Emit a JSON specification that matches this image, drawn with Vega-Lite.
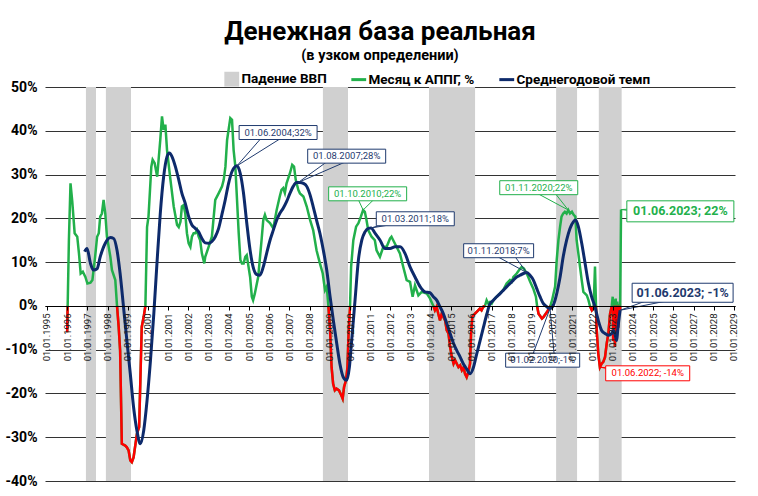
{
  "$schema": "https://vega.github.io/schema/vega-lite/v6.json",
  "width": 690,
  "height": 394,
  "autosize": {"type": "none"},
  "padding": {"left": 45, "top": 87, "right": 23, "bottom": 15},
  "background": "white",
  "config": {"font": "Roboto", "view": {"stroke": null}},
  "title": {
    "text": "Денежная база реальная",
    "subtitle": "(в узком определении)",
    "fontSize": 26, "fontWeight": "bold", "color": "#000",
    "subtitleFontSize": 14.5, "subtitleFontWeight": "bold", "subtitleColor": "#000",
    "anchor": "middle", "dx": -10, "offset": 10, "subtitlePadding": 4
  },
  "datasets": {
    "bands": [
      {"s": "1996-12-05", "e": "1997-06-05"},
      {"s": "1997-12-01", "e": "1999-02-28"},
      {"s": "2008-08-28", "e": "2009-11-25"},
      {"s": "2013-11-28", "e": "2016-03-10"},
      {"s": "2020-03-14", "e": "2021-03-28"},
      {"s": "2022-04-25", "e": "2023-06-12"}
    ],
    "month": [
      {"d": "1996-01-01", "v": -6}, {"d": "1996-02-01", "v": 15}, {"d": "1996-03-01", "v": 28}, {"d": "1996-04-01", "v": 24},
      {"d": "1996-05-15", "v": 16.6}, {"d": "1996-07-01", "v": 15.8}, {"d": "1996-08-01", "v": 12}, {"d": "1996-09-01", "v": 7.4},
      {"d": "1996-10-10", "v": 7.8}, {"d": "1996-11-25", "v": 6.6}, {"d": "1997-01-01", "v": 5.1}, {"d": "1997-02-25", "v": 5.3},
      {"d": "1997-04-01", "v": 5.9}, {"d": "1997-05-20", "v": 11.2}, {"d": "1997-06-25", "v": 15.8}, {"d": "1997-07-25", "v": 16.6},
      {"d": "1997-08-20", "v": 20.4}, {"d": "1997-09-20", "v": 21.1}, {"d": "1997-10-20", "v": 24.2}, {"d": "1997-11-20", "v": 21.1},
      {"d": "1997-12-20", "v": 15.8}, {"d": "1998-02-20", "v": 11.2}, {"d": "1998-03-20", "v": 8.2}, {"d": "1998-05-20", "v": 5.9},
      {"d": "1998-06-20", "v": 0}, {"d": "1998-07-20", "v": -4.8}, {"d": "1998-08-15", "v": -10.2}, {"d": "1998-09-15", "v": -31.5},
      {"d": "1998-11-15", "v": -31.9}, {"d": "1998-12-15", "v": -32.3}, {"d": "1999-01-15", "v": -33}, {"d": "1999-02-15", "v": -35.3},
      {"d": "1999-03-15", "v": -35.7}, {"d": "1999-04-15", "v": -34.6}, {"d": "1999-06-15", "v": -29.2}, {"d": "1999-07-25", "v": -27.7},
      {"d": "1999-09-10", "v": -4.8}, {"d": "1999-10-15", "v": -2.5}, {"d": "1999-11-15", "v": 0}, {"d": "1999-12-15", "v": 18},
      {"d": "2000-01-10", "v": 20.4}, {"d": "2000-03-01", "v": 31.8}, {"d": "2000-03-25", "v": 33.4}, {"d": "2000-05-01", "v": 32.6},
      {"d": "2000-06-15", "v": 29.5}, {"d": "2000-08-10", "v": 37.9}, {"d": "2000-09-10", "v": 43.3}, {"d": "2000-10-10", "v": 40.2},
      {"d": "2000-11-10", "v": 41.4}, {"d": "2000-12-10", "v": 35.6}, {"d": "2001-02-10", "v": 28.8}, {"d": "2001-04-10", "v": 22.7},
      {"d": "2001-06-10", "v": 18.5}, {"d": "2001-07-10", "v": 18}, {"d": "2001-08-10", "v": 19.2}, {"d": "2001-09-05", "v": 22.7},
      {"d": "2001-10-05", "v": 23}, {"d": "2001-11-05", "v": 21.1}, {"d": "2001-12-05", "v": 16.6}, {"d": "2002-01-05", "v": 14.3},
      {"d": "2002-02-05", "v": 13.5}, {"d": "2002-03-05", "v": 15.8}, {"d": "2002-04-05", "v": 16.6}, {"d": "2002-05-05", "v": 16.6},
      {"d": "2002-06-05", "v": 17.3}, {"d": "2002-07-05", "v": 15.8}, {"d": "2002-08-01", "v": 15}, {"d": "2002-09-01", "v": 12},
      {"d": "2002-10-15", "v": 9.7}, {"d": "2002-11-01", "v": 11.2}, {"d": "2003-01-01", "v": 13.5}, {"d": "2003-03-01", "v": 15.8},
      {"d": "2003-05-01", "v": 24.2}, {"d": "2003-07-01", "v": 25.7}, {"d": "2003-08-01", "v": 26.5}, {"d": "2003-09-01", "v": 27.3},
      {"d": "2003-10-01", "v": 28.8}, {"d": "2003-11-01", "v": 31.8}, {"d": "2003-12-01", "v": 37.9}, {"d": "2004-01-28", "v": 42.9},
      {"d": "2004-02-28", "v": 42.5}, {"d": "2004-03-28", "v": 35.6}, {"d": "2004-04-28", "v": 31.8}, {"d": "2004-06-28", "v": 16.6},
      {"d": "2004-07-28", "v": 10.5}, {"d": "2004-08-25", "v": 9.7}, {"d": "2004-09-25", "v": 9.7}, {"d": "2004-10-25", "v": 11.2},
      {"d": "2004-11-20", "v": 11.6}, {"d": "2005-01-20", "v": 6.6}, {"d": "2005-02-20", "v": 2.1}, {"d": "2005-03-15", "v": 1.3},
      {"d": "2005-04-15", "v": 2.8}, {"d": "2005-06-15", "v": 6.6}, {"d": "2005-08-15", "v": 15}, {"d": "2005-09-15", "v": 19.6},
      {"d": "2005-10-15", "v": 20.8}, {"d": "2005-11-15", "v": 19.6}, {"d": "2006-01-15", "v": 18.9}, {"d": "2006-03-15", "v": 17.7},
      {"d": "2006-05-15", "v": 21.9}, {"d": "2006-07-10", "v": 25}, {"d": "2006-08-10", "v": 26.5}, {"d": "2006-09-10", "v": 26.9},
      {"d": "2006-10-10", "v": 25.8}, {"d": "2006-11-10", "v": 28}, {"d": "2007-01-10", "v": 30.3}, {"d": "2007-02-20", "v": 32.2},
      {"d": "2007-03-25", "v": 31.8}, {"d": "2007-04-25", "v": 28.8}, {"d": "2007-06-10", "v": 26.5}, {"d": "2007-07-10", "v": 25.7},
      {"d": "2007-09-10", "v": 25}, {"d": "2007-11-10", "v": 22.7}, {"d": "2008-01-10", "v": 19.6}, {"d": "2008-03-05", "v": 17.3},
      {"d": "2008-05-05", "v": 12.7}, {"d": "2008-07-05", "v": 9.7}, {"d": "2008-08-25", "v": 7.4}, {"d": "2008-10-05", "v": 3.6},
      {"d": "2008-11-05", "v": 4.4}, {"d": "2008-12-05", "v": 0}, {"d": "2009-01-05", "v": -5.6}, {"d": "2009-02-01", "v": -14},
      {"d": "2009-03-01", "v": -17.8}, {"d": "2009-04-01", "v": -19.3}, {"d": "2009-05-01", "v": -18.9}, {"d": "2009-06-15", "v": -19.3},
      {"d": "2009-07-15", "v": -20.1}, {"d": "2009-08-20", "v": -21.2}, {"d": "2009-09-15", "v": -18.5}, {"d": "2009-10-20", "v": -17},
      {"d": "2009-11-15", "v": -14}, {"d": "2009-12-05", "v": -6.3}, {"d": "2010-01-01", "v": 0}, {"d": "2010-01-20", "v": 8.9},
      {"d": "2010-03-01", "v": 15}, {"d": "2010-04-20", "v": 18.1}, {"d": "2010-06-01", "v": 18.9}, {"d": "2010-07-15", "v": 20.4},
      {"d": "2010-08-25", "v": 21.9}, {"d": "2010-09-25", "v": 21.5}, {"d": "2010-10-25", "v": 19.6}, {"d": "2010-11-25", "v": 17.3},
      {"d": "2011-01-25", "v": 15.8}, {"d": "2011-03-25", "v": 15}, {"d": "2011-04-25", "v": 12.7}, {"d": "2011-06-25", "v": 11.2},
      {"d": "2011-08-25", "v": 13.5}, {"d": "2011-10-25", "v": 13.5}, {"d": "2011-12-25", "v": 15.4}, {"d": "2012-01-20", "v": 15.8},
      {"d": "2012-02-20", "v": 15}, {"d": "2012-04-20", "v": 13.5}, {"d": "2012-06-20", "v": 12}, {"d": "2012-08-20", "v": 8.9},
      {"d": "2012-10-20", "v": 5.9}, {"d": "2012-12-20", "v": 5.5}, {"d": "2013-02-05", "v": 2.1}, {"d": "2013-03-20", "v": 4.7},
      {"d": "2013-05-20", "v": 2.4}, {"d": "2013-07-20", "v": 3.2}, {"d": "2013-10-20", "v": 2.8}, {"d": "2013-12-15", "v": 1.7},
      {"d": "2014-02-15", "v": 0}, {"d": "2014-03-15", "v": -1}, {"d": "2014-04-15", "v": -0.2}, {"d": "2014-05-15", "v": -1.8},
      {"d": "2014-06-15", "v": -3.3}, {"d": "2014-07-15", "v": -1.8}, {"d": "2014-08-15", "v": -2.5}, {"d": "2014-09-15", "v": -3.3},
      {"d": "2014-10-15", "v": -5.6}, {"d": "2014-11-15", "v": -6.3}, {"d": "2014-12-15", "v": -9.4}, {"d": "2015-01-15", "v": -11.7},
      {"d": "2015-02-15", "v": -13.2}, {"d": "2015-03-15", "v": -12.4}, {"d": "2015-04-15", "v": -13.2}, {"d": "2015-05-15", "v": -14},
      {"d": "2015-06-15", "v": -13.6}, {"d": "2015-07-15", "v": -14.7}, {"d": "2015-08-15", "v": -14}, {"d": "2015-09-10", "v": -15.5},
      {"d": "2015-10-10", "v": -16.3}, {"d": "2015-11-10", "v": -15.1}, {"d": "2015-12-10", "v": -13.2}, {"d": "2015-12-28", "v": -6.3},
      {"d": "2016-01-20", "v": -2.5}, {"d": "2016-03-05", "v": -1.8}, {"d": "2016-05-05", "v": -1}, {"d": "2016-06-05", "v": -0.6},
      {"d": "2016-07-05", "v": -1}, {"d": "2016-08-05", "v": -0.2}, {"d": "2016-09-05", "v": 0}, {"d": "2016-10-05", "v": 1.3},
      {"d": "2016-11-05", "v": 0.5}, {"d": "2016-12-05", "v": 0.9}, {"d": "2017-01-05", "v": 0.5}, {"d": "2017-02-05", "v": 1.3},
      {"d": "2017-04-05", "v": 2.1}, {"d": "2017-06-01", "v": 2.8}, {"d": "2017-08-01", "v": 3.6}, {"d": "2017-10-01", "v": 5.1},
      {"d": "2017-12-01", "v": 5.9}, {"d": "2018-01-01", "v": 5.5}, {"d": "2018-02-01", "v": 6.6}, {"d": "2018-04-01", "v": 7.4},
      {"d": "2018-06-01", "v": 8.5}, {"d": "2018-07-01", "v": 8.9}, {"d": "2018-08-10", "v": 8.5}, {"d": "2018-10-01", "v": 7.4},
      {"d": "2018-12-01", "v": 5.5}, {"d": "2019-01-25", "v": 4}, {"d": "2019-03-15", "v": 2.1}, {"d": "2019-04-05", "v": 0},
      {"d": "2019-05-01", "v": -1.8}, {"d": "2019-07-01", "v": -2.9}, {"d": "2019-08-01", "v": -2.5}, {"d": "2019-10-01", "v": -1.4},
      {"d": "2019-12-01", "v": 0}, {"d": "2020-01-01", "v": 1.3}, {"d": "2020-02-25", "v": 4.4}, {"d": "2020-03-25", "v": 10.5},
      {"d": "2020-04-25", "v": 15}, {"d": "2020-05-25", "v": 18.1}, {"d": "2020-06-20", "v": 20.4}, {"d": "2020-07-20", "v": 21.1},
      {"d": "2020-08-20", "v": 21.5}, {"d": "2020-09-20", "v": 21.1}, {"d": "2020-10-20", "v": 21.9}, {"d": "2020-11-20", "v": 21.1},
      {"d": "2020-12-25", "v": 21.5}, {"d": "2021-01-25", "v": 20.8}, {"d": "2021-02-25", "v": 20.4}, {"d": "2021-03-20", "v": 15},
      {"d": "2021-04-20", "v": 12}, {"d": "2021-05-20", "v": 8.9}, {"d": "2021-06-20", "v": 5.9}, {"d": "2021-07-20", "v": 3.2},
      {"d": "2021-08-20", "v": 2.8}, {"d": "2021-09-20", "v": 2.4}, {"d": "2021-10-20", "v": 1.3}, {"d": "2021-11-15", "v": 0},
      {"d": "2021-12-20", "v": -1}, {"d": "2022-01-20", "v": -0.5}, {"d": "2022-02-15", "v": 9}, {"d": "2022-03-15", "v": -4.8},
      {"d": "2022-04-15", "v": -10.9}, {"d": "2022-05-15", "v": -14}, {"d": "2022-06-15", "v": -13.2}, {"d": "2022-07-15", "v": -12.8},
      {"d": "2022-08-15", "v": -11.7}, {"d": "2022-09-15", "v": -8.6}, {"d": "2022-10-15", "v": -6.3}, {"d": "2022-11-15", "v": -1.8},
      {"d": "2022-12-15", "v": 0}, {"d": "2023-01-01", "v": 2.1}, {"d": "2023-01-10", "v": -8}, {"d": "2023-01-25", "v": 1.5},
      {"d": "2023-02-10", "v": -9.4}, {"d": "2023-02-25", "v": 1.7}, {"d": "2023-03-10", "v": -7}, {"d": "2023-03-25", "v": 1},
      {"d": "2023-04-10", "v": -5}, {"d": "2023-04-25", "v": 0.5}, {"d": "2023-05-15", "v": -1}, {"d": "2023-06-01", "v": 22}
    ],
    "negative": [
      {"g": "a", "d": "1996-01-01", "v": -6}, {"g": "a", "d": "1996-01-09", "v": 0},
      {"g": "b", "d": "1998-06-20", "v": 0}, {"g": "b", "d": "1998-07-20", "v": -4.8}, {"g": "b", "d": "1998-08-15", "v": -10.2},
      {"g": "b", "d": "1998-09-15", "v": -31.5}, {"g": "b", "d": "1998-11-15", "v": -31.9}, {"g": "b", "d": "1998-12-15", "v": -32.3},
      {"g": "b", "d": "1999-01-15", "v": -33}, {"g": "b", "d": "1999-02-15", "v": -35.3}, {"g": "b", "d": "1999-03-15", "v": -35.7},
      {"g": "b", "d": "1999-04-15", "v": -34.6}, {"g": "b", "d": "1999-06-15", "v": -29.2}, {"g": "b", "d": "1999-07-25", "v": -27.7},
      {"g": "b", "d": "1999-09-10", "v": -4.8}, {"g": "b", "d": "1999-10-15", "v": -2.5}, {"g": "b", "d": "1999-11-15", "v": 0},
      {"g": "c", "d": "2008-12-05", "v": 0}, {"g": "c", "d": "2009-01-05", "v": -5.6}, {"g": "c", "d": "2009-02-01", "v": -14},
      {"g": "c", "d": "2009-03-01", "v": -17.8}, {"g": "c", "d": "2009-04-01", "v": -19.3}, {"g": "c", "d": "2009-05-01", "v": -18.9},
      {"g": "c", "d": "2009-06-15", "v": -19.3}, {"g": "c", "d": "2009-07-15", "v": -20.1}, {"g": "c", "d": "2009-08-20", "v": -21.2},
      {"g": "c", "d": "2009-09-15", "v": -18.5}, {"g": "c", "d": "2009-10-20", "v": -17}, {"g": "c", "d": "2009-11-15", "v": -14},
      {"g": "c", "d": "2009-12-05", "v": -6.3}, {"g": "c", "d": "2010-01-01", "v": 0},
      {"g": "d", "d": "2014-02-15", "v": 0}, {"g": "d", "d": "2014-03-15", "v": -1}, {"g": "d", "d": "2014-04-15", "v": -0.2},
      {"g": "d", "d": "2014-05-15", "v": -1.8}, {"g": "d", "d": "2014-06-15", "v": -3.3}, {"g": "d", "d": "2014-07-15", "v": -1.8},
      {"g": "d", "d": "2014-08-15", "v": -2.5}, {"g": "d", "d": "2014-09-15", "v": -3.3}, {"g": "d", "d": "2014-10-15", "v": -5.6},
      {"g": "d", "d": "2014-11-15", "v": -6.3}, {"g": "d", "d": "2014-12-15", "v": -9.4}, {"g": "d", "d": "2015-01-15", "v": -11.7},
      {"g": "d", "d": "2015-02-15", "v": -13.2}, {"g": "d", "d": "2015-03-15", "v": -12.4}, {"g": "d", "d": "2015-04-15", "v": -13.2},
      {"g": "d", "d": "2015-05-15", "v": -14}, {"g": "d", "d": "2015-06-15", "v": -13.6}, {"g": "d", "d": "2015-07-15", "v": -14.7},
      {"g": "d", "d": "2015-08-15", "v": -14}, {"g": "d", "d": "2015-09-10", "v": -15.5}, {"g": "d", "d": "2015-10-10", "v": -16.3},
      {"g": "d", "d": "2015-11-10", "v": -15.1}, {"g": "d", "d": "2015-12-10", "v": -13.2}, {"g": "d", "d": "2015-12-28", "v": -6.3},
      {"g": "d", "d": "2016-01-20", "v": -2.5}, {"g": "d", "d": "2016-03-05", "v": -1.8}, {"g": "d", "d": "2016-05-05", "v": -1},
      {"g": "d", "d": "2016-06-05", "v": -0.6}, {"g": "d", "d": "2016-07-05", "v": -1}, {"g": "d", "d": "2016-08-05", "v": -0.2},
      {"g": "d", "d": "2016-09-05", "v": 0},
      {"g": "e", "d": "2019-04-05", "v": 0}, {"g": "e", "d": "2019-05-01", "v": -1.8}, {"g": "e", "d": "2019-07-01", "v": -2.9},
      {"g": "e", "d": "2019-08-01", "v": -2.5}, {"g": "e", "d": "2019-10-01", "v": -1.4}, {"g": "e", "d": "2019-12-01", "v": 0},
      {"g": "f", "d": "2021-11-15", "v": 0}, {"g": "f", "d": "2021-12-20", "v": -1}, {"g": "f", "d": "2022-01-20", "v": -0.5},
      {"g": "f", "d": "2022-01-21", "v": 0},
      {"g": "h", "d": "2022-03-05", "v": 0}, {"g": "h", "d": "2022-03-15", "v": -4.8}, {"g": "h", "d": "2022-04-15", "v": -10.9},
      {"g": "h", "d": "2022-05-15", "v": -14}, {"g": "h", "d": "2022-06-15", "v": -13.2}, {"g": "h", "d": "2022-07-15", "v": -12.8},
      {"g": "h", "d": "2022-08-15", "v": -11.7}, {"g": "h", "d": "2022-09-15", "v": -8.6}, {"g": "h", "d": "2022-10-15", "v": -6.3},
      {"g": "h", "d": "2022-11-15", "v": -1.8}, {"g": "h", "d": "2022-12-15", "v": 0},
      {"g": "i", "d": "2023-01-03", "v": 0}, {"g": "i", "d": "2023-01-10", "v": -8}, {"g": "i", "d": "2023-01-23", "v": 0},
      {"g": "j", "d": "2023-01-27", "v": 0}, {"g": "j", "d": "2023-02-10", "v": -9.4}, {"g": "j", "d": "2023-02-23", "v": 0},
      {"g": "k", "d": "2023-02-27", "v": 0}, {"g": "k", "d": "2023-03-10", "v": -7}, {"g": "k", "d": "2023-03-23", "v": 0},
      {"g": "l", "d": "2023-03-28", "v": 0}, {"g": "l", "d": "2023-04-10", "v": -5}, {"g": "l", "d": "2023-04-24", "v": 0},
      {"g": "m", "d": "2023-05-02", "v": 0}, {"g": "m", "d": "2023-05-15", "v": -1}, {"g": "m", "d": "2023-05-16", "v": 0}
    ],
    "avg": [
      {"d": "1996-11-10", "v": 12.4}, {"d": "1996-12-25", "v": 13.1}, {"d": "1997-02-25", "v": 9.7}, {"d": "1997-04-20", "v": 8.2},
      {"d": "1997-06-25", "v": 8.5}, {"d": "1997-08-20", "v": 11.2}, {"d": "1997-11-20", "v": 14.3}, {"d": "1998-02-20", "v": 15.6},
      {"d": "1998-04-20", "v": 15.4}, {"d": "1998-06-20", "v": 12.7}, {"d": "1998-08-15", "v": 7.4}, {"d": "1998-10-15", "v": -0.2},
      {"d": "1998-12-15", "v": -7.9}, {"d": "1999-02-15", "v": -15.5}, {"d": "1999-04-15", "v": -23.1}, {"d": "1999-06-15", "v": -28.5},
      {"d": "1999-08-15", "v": -31.5}, {"d": "1999-10-15", "v": -28.5}, {"d": "1999-12-15", "v": -21.6}, {"d": "2000-02-15", "v": -12.4},
      {"d": "2000-04-15", "v": -1.8}, {"d": "2000-06-15", "v": 10.5}, {"d": "2000-08-10", "v": 21.1}, {"d": "2000-10-10", "v": 29.5},
      {"d": "2000-12-10", "v": 34.1}, {"d": "2001-01-20", "v": 34.9}, {"d": "2001-03-10", "v": 34.1}, {"d": "2001-05-10", "v": 31.8},
      {"d": "2001-07-10", "v": 28.8}, {"d": "2001-09-05", "v": 25.7}, {"d": "2001-11-05", "v": 23.4}, {"d": "2002-01-05", "v": 20.4},
      {"d": "2002-03-05", "v": 18.5}, {"d": "2002-05-05", "v": 17.7}, {"d": "2002-07-05", "v": 16.9}, {"d": "2002-09-01", "v": 15.4},
      {"d": "2002-11-01", "v": 14.4}, {"d": "2003-01-01", "v": 14.3}, {"d": "2003-03-01", "v": 14.7}, {"d": "2003-05-01", "v": 15.8},
      {"d": "2003-07-01", "v": 17.7}, {"d": "2003-08-28", "v": 20.8}, {"d": "2003-10-28", "v": 24.2}, {"d": "2003-12-28", "v": 28},
      {"d": "2004-02-28", "v": 30.7}, {"d": "2004-05-28", "v": 32}, {"d": "2004-07-25", "v": 30.3}, {"d": "2004-09-20", "v": 26},
      {"d": "2004-11-20", "v": 19}, {"d": "2005-01-20", "v": 12.7}, {"d": "2005-03-15", "v": 8.9}, {"d": "2005-05-15", "v": 7.2},
      {"d": "2005-07-15", "v": 7}, {"d": "2005-09-15", "v": 8.9}, {"d": "2005-11-15", "v": 12}, {"d": "2006-01-15", "v": 15},
      {"d": "2006-03-15", "v": 17.3}, {"d": "2006-05-15", "v": 19.6}, {"d": "2006-07-10", "v": 21.1}, {"d": "2006-09-10", "v": 22.3},
      {"d": "2006-11-10", "v": 23.8}, {"d": "2007-01-10", "v": 25.7}, {"d": "2007-03-10", "v": 27.3}, {"d": "2007-05-10", "v": 28.2},
      {"d": "2007-07-10", "v": 28.2}, {"d": "2007-09-10", "v": 28}, {"d": "2007-11-10", "v": 27.3}, {"d": "2008-01-10", "v": 25.3},
      {"d": "2008-03-05", "v": 22.7}, {"d": "2008-05-05", "v": 19.6}, {"d": "2008-07-05", "v": 16.6}, {"d": "2008-09-05", "v": 12.7},
      {"d": "2008-11-05", "v": 8.2}, {"d": "2009-01-05", "v": 2.1}, {"d": "2009-03-05", "v": -3.3}, {"d": "2009-05-05", "v": -8.6},
      {"d": "2009-07-01", "v": -13.2}, {"d": "2009-09-01", "v": -16.3}, {"d": "2009-11-01", "v": -17}, {"d": "2009-12-20", "v": -14},
      {"d": "2010-01-30", "v": -7.9}, {"d": "2010-04-01", "v": 1.3}, {"d": "2010-06-01", "v": 10.5}, {"d": "2010-08-01", "v": 15},
      {"d": "2010-09-28", "v": 16.9}, {"d": "2010-11-28", "v": 17.7}, {"d": "2011-01-15", "v": 17.8}, {"d": "2011-03-28", "v": 16.6},
      {"d": "2011-06-28", "v": 15}, {"d": "2011-09-25", "v": 13.1}, {"d": "2011-12-25", "v": 13.1}, {"d": "2012-03-25", "v": 13.5},
      {"d": "2012-06-25", "v": 13.5}, {"d": "2012-09-20", "v": 12}, {"d": "2012-12-20", "v": 8.9}, {"d": "2013-03-20", "v": 6.6},
      {"d": "2013-06-20", "v": 4.4}, {"d": "2013-09-15", "v": 3.2}, {"d": "2013-12-15", "v": 3}, {"d": "2014-02-15", "v": 2.1},
      {"d": "2014-04-15", "v": 1.3}, {"d": "2014-06-15", "v": -0.2}, {"d": "2014-08-15", "v": -1.8}, {"d": "2014-10-15", "v": -4},
      {"d": "2014-12-15", "v": -6.3}, {"d": "2015-02-15", "v": -8.6}, {"d": "2015-04-15", "v": -10.2}, {"d": "2015-06-15", "v": -11.7},
      {"d": "2015-08-10", "v": -13.2}, {"d": "2015-10-10", "v": -14.4}, {"d": "2015-12-10", "v": -15.5}, {"d": "2016-02-10", "v": -14},
      {"d": "2016-04-10", "v": -10.9}, {"d": "2016-06-10", "v": -7.9}, {"d": "2016-08-10", "v": -4.8}, {"d": "2016-10-10", "v": -1.8},
      {"d": "2016-12-05", "v": 0.5}, {"d": "2017-02-05", "v": 1.3}, {"d": "2017-04-05", "v": 2.1}, {"d": "2017-06-05", "v": 2.8},
      {"d": "2017-08-05", "v": 3.6}, {"d": "2017-10-05", "v": 4.4}, {"d": "2017-12-01", "v": 5.1}, {"d": "2018-02-01", "v": 5.9},
      {"d": "2018-04-01", "v": 6.6}, {"d": "2018-06-01", "v": 7}, {"d": "2018-08-01", "v": 7.4}, {"d": "2018-10-01", "v": 7.6},
      {"d": "2018-11-28", "v": 7}, {"d": "2019-01-28", "v": 5.9}, {"d": "2019-03-28", "v": 4}, {"d": "2019-05-28", "v": 2.1},
      {"d": "2019-07-28", "v": 0.5}, {"d": "2019-09-28", "v": -0.2}, {"d": "2019-11-25", "v": -0.6}, {"d": "2020-01-25", "v": 0.2},
      {"d": "2020-03-25", "v": 2.8}, {"d": "2020-05-25", "v": 6.6}, {"d": "2020-07-20", "v": 11.2}, {"d": "2020-09-20", "v": 15},
      {"d": "2020-11-20", "v": 17.7}, {"d": "2021-01-20", "v": 19.2}, {"d": "2021-03-01", "v": 19.6}, {"d": "2021-04-20", "v": 18.1},
      {"d": "2021-06-20", "v": 14.3}, {"d": "2021-08-20", "v": 9.7}, {"d": "2021-10-20", "v": 5.1}, {"d": "2021-12-15", "v": 2.1},
      {"d": "2022-02-15", "v": -0.2}, {"d": "2022-04-15", "v": -3.3}, {"d": "2022-06-15", "v": -5.6}, {"d": "2022-08-15", "v": -6.3},
      {"d": "2022-10-15", "v": -6.7}, {"d": "2022-12-15", "v": -6.3}, {"d": "2023-01-15", "v": -5.6}, {"d": "2023-02-15", "v": -6.7},
      {"d": "2023-03-15", "v": -7.9}, {"d": "2023-04-01", "v": -5.6}, {"d": "2023-05-15", "v": -1}
    ],
    "notes": [
      {"t": "01.06.2004;32%", "series": "avg", "d": "2004-05-28", "v": 32, "ld": "2006-06-10", "lv": 39.6},
      {"t": "01.08.2007;28%", "series": "avg", "d": "2007-06-10", "v": 28.2, "ld": "2009-11-01", "lv": 34.2},
      {"t": "01.10.2010;22%", "series": "month", "d": "2010-08-25", "v": 21.9, "ld": "2010-11-15", "lv": 25.6},
      {"t": "01.03.2011;18%", "series": "avg", "d": "2011-01-15", "v": 17.8, "ld": "2013-03-25", "lv": 19.9},
      {"t": "01.11.2018;7%", "series": "avg", "d": "2018-10-01", "v": 7.6, "ld": "2017-05-10", "lv": 12.6},
      {"t": "01.02.2020;-1%", "series": "avg", "d": "2019-11-25", "v": -0.6, "ld": "2019-07-15", "lv": -12.4},
      {"t": "01.11.2020;22%", "series": "month", "d": "2020-10-20", "v": 21.9, "ld": "2019-05-05", "lv": 27},
      {"t": "01.06.2022; -14%", "series": "neg", "d": "2022-05-15", "v": -14, "ld": "2024-09-25", "lv": -15.4}
    ],
    "latest": [
      {"t": "01.06.2023; 22%", "series": "month", "d": "2023-06-01", "v": 22, "ld": "2026-05-08", "lv": 21.6},
      {"t": "01.06.2023; -1%", "series": "avg", "d": "2023-05-15", "v": -1, "ld": "2026-06-18", "lv": 3}
    ]
  },
  "layer": [
    {
      "data": {"name": "bands"},
      "mark": {"type": "rect", "color": "#d0d0d0"},
      "encoding": {
        "x": {
          "field": "s", "type": "temporal",
          "scale": {"type": "utc", "domain": [{"year": 1994, "month": 11, "date": 26, "utc": true}, {"year": 2029, "month": 1, "date": 20, "utc": true}]},
          "axis": {
            "orient": "bottom", "offset": -175, "title": null,
            "labelExpr": "utcFormat(datum.value, '%d.%m.%Y')",
            "tickCount": {"interval": "year", "step": 1},
            "labelAngle": 270, "labelAlign": "right", "labelBaseline": "middle",
            "labelFontSize": 9.5, "labelColor": "#1a1a1a", "labelPadding": 3,
            "labelOverlap": false, "labelFlush": false, "labelBound": false,
            "grid": false, "domainColor": "#000", "domainWidth": 1,
            "tickColor": "#000", "tickSize": 4, "zindex": 1
          }
        },
        "x2": {"field": "e"},
        "color": {
          "datum": "Падение ВВП", "type": "nominal",
          "scale": {"domain": ["Падение ВВП", "Месяц к АППГ, %", "Среднегодовой темп"], "range": ["#d0d0d0", "#22b04b", "#0d2a6b"]},
          "legend": {
            "orient": "none", "legendX": 180, "legendY": -15, "direction": "horizontal", "title": null,
            "labelFontSize": 13.5, "labelFontWeight": "bold", "labelColor": "#000",
            "symbolSize": 220, "columnPadding": 18, "labelOffset": 3,
            "encode": {"symbols": {"update": {
              "shape": {"signal": "datum.value === 'Падение ВВП' ? 'square' : 'stroke'"},
              "strokeWidth": {"signal": "datum.value === 'Падение ВВП' ? 0 : 3"},
              "fill": {"signal": "datum.value === 'Падение ВВП' ? '#d0d0d0' : 'transparent'"},
              "stroke": {"signal": "datum.value === 'Месяц к АППГ, %' ? '#22b04b' : (datum.value === 'Среднегодовой темп' ? '#0d2a6b' : '#d0d0d0')"},
              "opacity": {"value": 1}
            }}}
          }
        }
      }
    },
    {
      "data": {"name": "month"},
      "mark": {"type": "line", "strokeWidth": 2.5, "zindex": 2},
      "encoding": {
        "x": {"field": "d", "type": "temporal"},
        "y": {
          "field": "v", "type": "quantitative",
          "scale": {"domain": [-40, 50], "nice": false, "zero": false},
          "axis": {
            "title": null, "values": [-40, -30, -20, -10, 0, 10, 20, 30, 40, 50],
            "labelExpr": "datum.value + '%'", "labelFontSize": 14, "labelFontWeight": "bold",
            "labelColor": "#000", "labelPadding": 8, "ticks": false, "domain": false,
            "grid": true, "gridColor": "#333333", "gridWidth": 1.2, "zindex": 0
          }
        },
        "color": {"datum": "Месяц к АППГ, %", "type": "nominal"}
      }
    },
    {
      "data": {"name": "negative"},
      "mark": {"type": "line", "strokeWidth": 2.5, "color": "#ff0000", "zindex": 2},
      "encoding": {
        "x": {"field": "d", "type": "temporal"},
        "y": {"field": "v", "type": "quantitative"},
        "detail": {"field": "g", "type": "nominal"}
      }
    },
    {
      "data": {"name": "avg"},
      "mark": {"type": "line", "strokeWidth": 3, "interpolate": "monotone", "zindex": 2},
      "encoding": {
        "x": {"field": "d", "type": "temporal"},
        "y": {"field": "v", "type": "quantitative"},
        "color": {"datum": "Среднегодовой темп", "type": "nominal"}
      }
    },
    {
      "data": {"name": "notes"},
      "layer": [
        {
          "mark": {"type": "rule", "strokeWidth": 1, "x2Offset": -12, "zindex": 3},
          "encoding": {
            "x": {"field": "d", "type": "temporal"}, "y": {"field": "v", "type": "quantitative"},
            "x2": {"field": "ld"}, "y2": {"field": "lv"},
            "stroke": {"field": "series", "type": "nominal", "scale": {"domain": ["avg", "month", "neg"], "range": ["#1f3a6e", "#22b04b", "#ff0000"]}, "legend": null}
          }
        },
        {
          "mark": {"type": "rule", "strokeWidth": 1, "x2Offset": 12, "zindex": 3},
          "encoding": {
            "x": {"field": "d", "type": "temporal"}, "y": {"field": "v", "type": "quantitative"},
            "x2": {"field": "ld"}, "y2": {"field": "lv"},
            "stroke": {"field": "series", "type": "nominal", "legend": null}
          }
        },
        {
          "mark": {"type": "point", "filled": true, "fill": "white", "strokeWidth": 1, "size": 12100, "opacity": 1, "zindex": 3},
          "encoding": {
            "x": {"field": "ld", "type": "temporal"}, "y": {"field": "lv", "type": "quantitative"},
            "shape": {"field": "t", "type": "nominal", "legend": null, "scale": {
              "domain": ["01.06.2004;32%", "01.08.2007;28%", "01.10.2010;22%", "01.03.2011;18%", "01.11.2018;7%", "01.02.2020;-1%", "01.11.2020;22%", "01.06.2022; -14%", "01.06.2023; 22%", "01.06.2023; -1%"],
              "range": [
                "M-0.709,-0.127H0.709V0.127H-0.709Z",
                "M-0.709,-0.127H0.709V0.127H-0.709Z",
                "M-0.709,-0.127H0.709V0.127H-0.709Z",
                "M-0.709,-0.127H0.709V0.127H-0.709Z",
                "M-0.636,-0.127H0.636V0.127H-0.636Z",
                "M-0.673,-0.127H0.673V0.127H-0.673Z",
                "M-0.709,-0.127H0.709V0.127H-0.709Z",
                "M-0.764,-0.136H0.764V0.136H-0.764Z",
                "M-0.973,-0.191H0.973V0.191H-0.973Z",
                "M-0.918,-0.173H0.918V0.173H-0.918Z"
              ]}},
            "stroke": {"field": "series", "type": "nominal", "legend": null}
          }
        },
        {
          "mark": {"type": "text", "fontSize": 9.5, "align": "center", "baseline": "middle", "zindex": 3},
          "encoding": {
            "x": {"field": "ld", "type": "temporal"}, "y": {"field": "lv", "type": "quantitative"},
            "text": {"field": "t"},
            "fill": {"field": "series", "type": "nominal", "scale": {"domain": ["avg", "month", "neg"], "range": ["#1f3a6e", "#22b04b", "#ff0000"]}, "legend": null}
          }
        }
      ]
    },
    {
      "data": {"name": "latest"},
      "layer": [
        {
          "mark": {"type": "rule", "strokeWidth": 1, "y2Offset": -5, "zindex": 3},
          "encoding": {
            "x": {"field": "d", "type": "temporal"}, "y": {"field": "v", "type": "quantitative"},
            "x2": {"field": "ld"}, "y2": {"field": "lv"},
            "stroke": {"field": "series", "type": "nominal", "legend": null}
          }
        },
        {
          "mark": {"type": "rule", "strokeWidth": 1, "y2Offset": 5, "zindex": 3},
          "encoding": {
            "x": {"field": "d", "type": "temporal"}, "y": {"field": "v", "type": "quantitative"},
            "x2": {"field": "ld"}, "y2": {"field": "lv"},
            "stroke": {"field": "series", "type": "nominal", "legend": null}
          }
        },
        {
          "mark": {"type": "point", "filled": true, "fill": "white", "strokeWidth": 1, "size": 12100, "opacity": 1, "zindex": 3},
          "encoding": {
            "x": {"field": "ld", "type": "temporal"}, "y": {"field": "lv", "type": "quantitative"},
            "shape": {"field": "t", "type": "nominal", "legend": null},
            "stroke": {"field": "series", "type": "nominal", "legend": null}
          }
        },
        {
          "mark": {"type": "text", "fontSize": 12.5, "fontWeight": "bold", "align": "center", "baseline": "middle", "zindex": 3},
          "encoding": {
            "x": {"field": "ld", "type": "temporal"}, "y": {"field": "lv", "type": "quantitative"},
            "text": {"field": "t"},
            "fill": {"field": "series", "type": "nominal", "legend": null}
          }
        }
      ]
    }
  ]
}
